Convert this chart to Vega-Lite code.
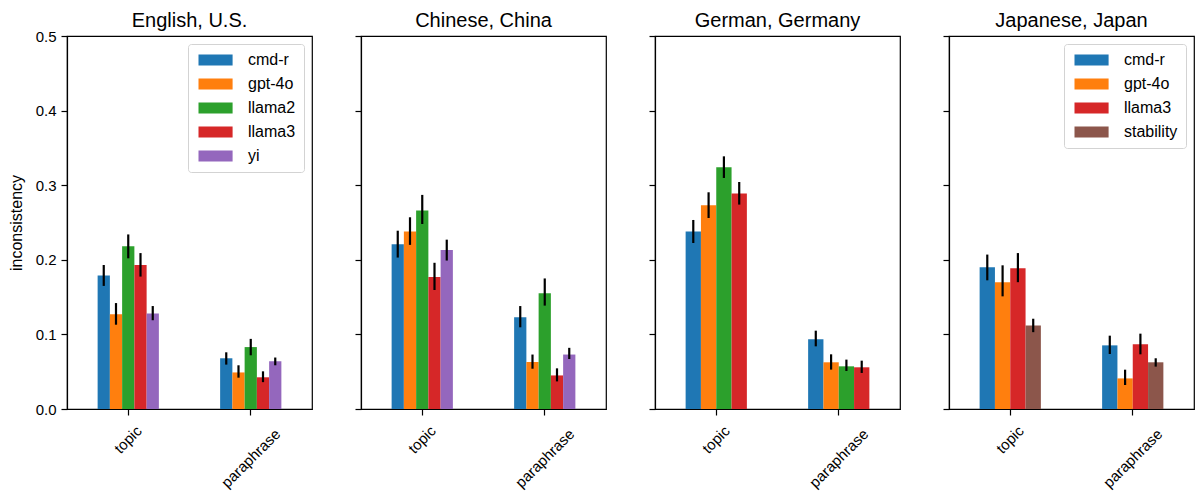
{
  "$schema": "https://vega.github.io/schema/vega-lite/v6.json",
  "autosize": {"type": "pad"},
  "padding": {"left": 7, "top": 10, "right": 0, "bottom": 0},
  "background": "white",
  "data": {"values": [
    {"lang": "English, U.S.", "prompt": "topic", "model": "cmd-r", "value": 0.179, "lo": 0.165, "hi": 0.193},
    {"lang": "English, U.S.", "prompt": "topic", "model": "gpt-4o", "value": 0.127, "lo": 0.113, "hi": 0.142},
    {"lang": "English, U.S.", "prompt": "topic", "model": "llama2", "value": 0.218, "lo": 0.202, "hi": 0.234},
    {"lang": "English, U.S.", "prompt": "topic", "model": "llama3", "value": 0.193, "lo": 0.1775, "hi": 0.209},
    {"lang": "English, U.S.", "prompt": "topic", "model": "yi", "value": 0.128, "lo": 0.119, "hi": 0.138},
    {"lang": "English, U.S.", "prompt": "paraphrase", "model": "cmd-r", "value": 0.068, "lo": 0.0595, "hi": 0.076},
    {"lang": "English, U.S.", "prompt": "paraphrase", "model": "gpt-4o", "value": 0.049, "lo": 0.042, "hi": 0.0586},
    {"lang": "English, U.S.", "prompt": "paraphrase", "model": "llama2", "value": 0.083, "lo": 0.072, "hi": 0.094},
    {"lang": "English, U.S.", "prompt": "paraphrase", "model": "llama3", "value": 0.0425, "lo": 0.036, "hi": 0.0505},
    {"lang": "English, U.S.", "prompt": "paraphrase", "model": "yi", "value": 0.064, "lo": 0.0586, "hi": 0.069},
    {"lang": "Chinese, China", "prompt": "topic", "model": "cmd-r", "value": 0.221, "lo": 0.203, "hi": 0.239},
    {"lang": "Chinese, China", "prompt": "topic", "model": "gpt-4o", "value": 0.238, "lo": 0.22, "hi": 0.257},
    {"lang": "Chinese, China", "prompt": "topic", "model": "llama2", "value": 0.266, "lo": 0.248, "hi": 0.287},
    {"lang": "Chinese, China", "prompt": "topic", "model": "llama3", "value": 0.177, "lo": 0.1595, "hi": 0.196},
    {"lang": "Chinese, China", "prompt": "topic", "model": "yi", "value": 0.213, "lo": 0.199, "hi": 0.227},
    {"lang": "Chinese, China", "prompt": "paraphrase", "model": "cmd-r", "value": 0.123, "lo": 0.1095, "hi": 0.138},
    {"lang": "Chinese, China", "prompt": "paraphrase", "model": "gpt-4o", "value": 0.063, "lo": 0.054, "hi": 0.073},
    {"lang": "Chinese, China", "prompt": "paraphrase", "model": "llama2", "value": 0.155, "lo": 0.1386, "hi": 0.175},
    {"lang": "Chinese, China", "prompt": "paraphrase", "model": "llama3", "value": 0.045, "lo": 0.037, "hi": 0.0545},
    {"lang": "Chinese, China", "prompt": "paraphrase", "model": "yi", "value": 0.073, "lo": 0.067, "hi": 0.082},
    {"lang": "German, Germany", "prompt": "topic", "model": "cmd-r", "value": 0.238, "lo": 0.2225, "hi": 0.2534},
    {"lang": "German, Germany", "prompt": "topic", "model": "gpt-4o", "value": 0.273, "lo": 0.256, "hi": 0.2905},
    {"lang": "German, Germany", "prompt": "topic", "model": "llama2", "value": 0.324, "lo": 0.3097, "hi": 0.3387},
    {"lang": "German, Germany", "prompt": "topic", "model": "llama3", "value": 0.289, "lo": 0.274, "hi": 0.3043},
    {"lang": "German, Germany", "prompt": "paraphrase", "model": "cmd-r", "value": 0.0934, "lo": 0.084, "hi": 0.105},
    {"lang": "German, Germany", "prompt": "paraphrase", "model": "gpt-4o", "value": 0.0626, "lo": 0.0528, "hi": 0.0733},
    {"lang": "German, Germany", "prompt": "paraphrase", "model": "llama2", "value": 0.0572, "lo": 0.051, "hi": 0.0662},
    {"lang": "German, Germany", "prompt": "paraphrase", "model": "llama3", "value": 0.0559, "lo": 0.0483, "hi": 0.0648},
    {"lang": "Japanese, Japan", "prompt": "topic", "model": "cmd-r", "value": 0.19, "lo": 0.1725, "hi": 0.207},
    {"lang": "Japanese, Japan", "prompt": "topic", "model": "gpt-4o", "value": 0.17, "lo": 0.151, "hi": 0.1926},
    {"lang": "Japanese, Japan", "prompt": "topic", "model": "llama3", "value": 0.1886, "lo": 0.17, "hi": 0.209},
    {"lang": "Japanese, Japan", "prompt": "topic", "model": "stability", "value": 0.112, "lo": 0.103, "hi": 0.121},
    {"lang": "Japanese, Japan", "prompt": "paraphrase", "model": "cmd-r", "value": 0.0853, "lo": 0.0737, "hi": 0.0983},
    {"lang": "Japanese, Japan", "prompt": "paraphrase", "model": "gpt-4o", "value": 0.041, "lo": 0.0322, "hi": 0.0527},
    {"lang": "Japanese, Japan", "prompt": "paraphrase", "model": "llama3", "value": 0.0867, "lo": 0.0733, "hi": 0.101},
    {"lang": "Japanese, Japan", "prompt": "paraphrase", "model": "stability", "value": 0.0626, "lo": 0.0568, "hi": 0.068}
  ]},
  "bounds": "flush",
  "spacing": 49,
  "resolve": {
    "scale": {"color": "independent", "xOffset": "independent", "x": "independent", "y": "independent"},
    "legend": {"color": "independent"}
  },
  "hconcat": [
    {
      "width": 245, "height": 373,
      "title": {"text": "English, U.S.", "offset": -2},
      "transform": [{"filter": "datum.lang === 'English, U.S.'"}],
      "encoding": {
        "x": {"field": "prompt", "type": "nominal", "sort": ["topic", "paraphrase"], "scale": {"paddingInner": 0.5, "paddingOuter": 0.25},
          "axis": {"title": null}},
        "xOffset": {"field": "model", "type": "nominal", "scale": {"paddingInner": 0, "paddingOuter": 0}}
      },
      "layer": [
        {"mark": {"type": "bar"},
         "encoding": {
          "y": {"field": "value", "type": "quantitative", "scale": {"domain": [0, 0.5], "nice": false}, "axis": {"title": "inconsistency", "values": [0, 0.1, 0.2, 0.3, 0.4, 0.5], "format": ".1f", "labelPadding": 5, "titlePadding": 11, "titleFontSize": 16}},
          "color": {"field": "model", "type": "nominal",
            "scale": {"domain": ["cmd-r", "gpt-4o", "llama2", "llama3", "yi"], "range": ["#1f77b4", "#ff7f0e", "#2ca02c", "#d62728", "#9467bd"]},
            "legend": {"title": null}}
         }},
        {"mark": {"type": "rule", "color": "black", "strokeWidth": 2.2},
         "encoding": {"y": {"field": "lo", "type": "quantitative"}, "y2": {"field": "hi"}}}
      ]
    },
    {
      "width": 245, "height": 373,
      "title": "Chinese, China",
      "transform": [{"filter": "datum.lang === 'Chinese, China'"}],
      "encoding": {
        "x": {"field": "prompt", "type": "nominal", "sort": ["topic", "paraphrase"], "scale": {"paddingInner": 0.5, "paddingOuter": 0.25},
          "axis": {"title": null}},
        "xOffset": {"field": "model", "type": "nominal", "scale": {"paddingInner": 0, "paddingOuter": 0}}
      },
      "layer": [
        {"mark": {"type": "bar"},
         "encoding": {
          "y": {"field": "value", "type": "quantitative", "scale": {"domain": [0, 0.5], "nice": false}, "axis": {"title": null, "labels": false, "values": [0, 0.1, 0.2, 0.3, 0.4, 0.5]}},
          "color": {"field": "model", "type": "nominal",
            "scale": {"domain": ["cmd-r", "gpt-4o", "llama2", "llama3", "yi"], "range": ["#1f77b4", "#ff7f0e", "#2ca02c", "#d62728", "#9467bd"]},
            "legend": null}
         }},
        {"mark": {"type": "rule", "color": "black", "strokeWidth": 2.2},
         "encoding": {"y": {"field": "lo", "type": "quantitative"}, "y2": {"field": "hi"}}}
      ]
    },
    {
      "width": 245, "height": 373,
      "title": "German, Germany",
      "transform": [{"filter": "datum.lang === 'German, Germany'"}],
      "encoding": {
        "x": {"field": "prompt", "type": "nominal", "sort": ["topic", "paraphrase"], "scale": {"paddingInner": 0.5, "paddingOuter": 0.25},
          "axis": {"title": null}},
        "xOffset": {"field": "model", "type": "nominal", "scale": {"paddingInner": 0, "paddingOuter": 0}}
      },
      "layer": [
        {"mark": {"type": "bar"},
         "encoding": {
          "y": {"field": "value", "type": "quantitative", "scale": {"domain": [0, 0.5], "nice": false}, "axis": {"title": null, "labels": false, "values": [0, 0.1, 0.2, 0.3, 0.4, 0.5]}},
          "color": {"field": "model", "type": "nominal",
            "scale": {"domain": ["cmd-r", "gpt-4o", "llama2", "llama3"], "range": ["#1f77b4", "#ff7f0e", "#2ca02c", "#d62728"]},
            "legend": null}
         }},
        {"mark": {"type": "rule", "color": "black", "strokeWidth": 2.2},
         "encoding": {"y": {"field": "lo", "type": "quantitative"}, "y2": {"field": "hi"}}}
      ]
    },
    {
      "width": 245, "height": 373,
      "title": "Japanese, Japan",
      "transform": [{"filter": "datum.lang === 'Japanese, Japan'"}],
      "encoding": {
        "x": {"field": "prompt", "type": "nominal", "sort": ["topic", "paraphrase"], "scale": {"paddingInner": 0.5, "paddingOuter": 0.25},
          "axis": {"title": null}},
        "xOffset": {"field": "model", "type": "nominal", "scale": {"paddingInner": 0, "paddingOuter": 0}}
      },
      "layer": [
        {"mark": {"type": "bar"},
         "encoding": {
          "y": {"field": "value", "type": "quantitative", "scale": {"domain": [0, 0.5], "nice": false}, "axis": {"title": null, "labels": false, "values": [0, 0.1, 0.2, 0.3, 0.4, 0.5]}},
          "color": {"field": "model", "type": "nominal",
            "scale": {"domain": ["cmd-r", "gpt-4o", "llama3", "stability"], "range": ["#1f77b4", "#ff7f0e", "#d62728", "#8c564b"]},
            "legend": {"title": null}}
         }},
        {"mark": {"type": "rule", "color": "black", "strokeWidth": 2.2},
         "encoding": {"y": {"field": "lo", "type": "quantitative"}, "y2": {"field": "hi"}}}
      ]
    }
  ],
  "config": {
    "font": "Liberation Sans",
    "view": {"stroke": "black", "strokeWidth": 1.2},
    "bar": {"strokeWidth": 0},
    "axis": {
      "grid": false, "domainColor": "black", "domainWidth": 1.2, "tickColor": "black", "tickWidth": 1.2, "tickSize": 6,
      "labelColor": "black", "labelFontSize": 15, "labelPadding": 3, "labelFont": "Liberation Sans",
      "titleColor": "black", "titleFontSize": 15, "titleFontWeight": "normal", "titlePadding": 9, "titleFont": "Liberation Sans"
    },
    "axisX": {
      "labelAngle": -45, "labelAlign": "right", "labelBaseline": "middle", "labelLimit": 400,
      "labelOffset": {"condition": {"test": "datum.value === 'topic'", "value": 11}, "value": 27},
      "labelPadding": {"condition": {"test": "datum.value === 'topic'", "value": 13}, "value": 16}
    },
    "title": {"fontSize": 20, "fontWeight": "normal", "color": "black", "offset": 4, "frame": "group", "anchor": "middle", "font": "Liberation Sans"},
    "legend": {
      "orient": "top-right", "offset": 8,
      "symbolType": "M-1,-1H5.2V1H-1Z", "symbolSize": 121, "symbolStrokeWidth": 0, "symbolOpacity": 1,
      "labelOffset": 36, "labelFontSize": 16, "labelColor": "black", "labelFont": "Liberation Sans",
      "rowPadding": 8, "padding": 8,
      "strokeColor": "#d3d3d3", "fillColor": "white", "cornerRadius": 3
    }
  }
}
